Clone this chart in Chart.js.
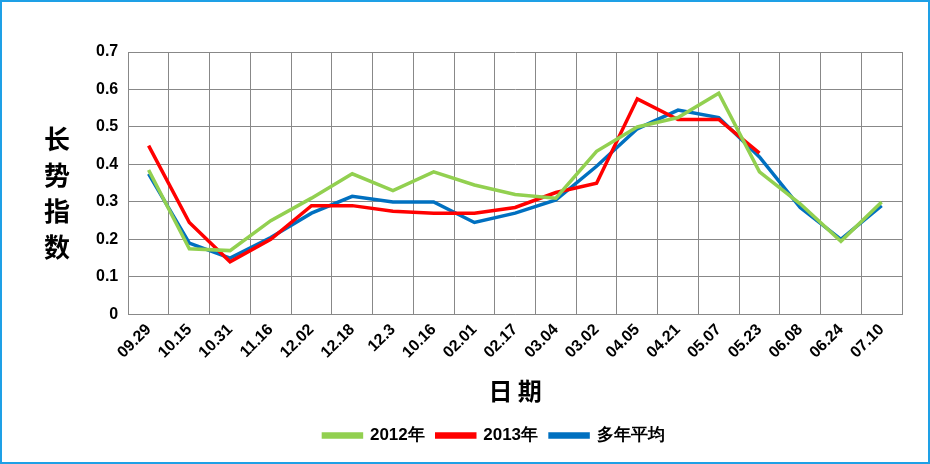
<!DOCTYPE html>
<html><head><meta charset="utf-8">
<script src="https://cdn.jsdelivr.net/npm/chart.js@4/dist/chart.umd.min.js"></script>
<style>
html,body{margin:0;padding:0;background:#fff;}
#wrap{position:relative;width:926px;height:460px;border:2px solid #1EA0E6;}
#ytitle{position:absolute;left:40px;top:118px;font:bold 26px "Noto Sans CJK SC";line-height:36px;width:30px;text-align:center;color:#000;}
</style></head><body>
<div id="wrap"><canvas id="c" width="926" height="460"></canvas>
<div id="ytitle">长<br>势<br>指<br>数</div></div>
<script>
const categories=["09.29","10.15","10.31","11.16","12.02","12.18","12.3","10.16","02.01","02.17","03.04","03.02","04.05","04.21","05.07","05.23","06.08","06.24","07.10"];
const s2012=[0.385,0.175,0.17,0.25,0.31,0.375,0.33,0.38,0.345,0.32,0.31,0.435,0.5,0.525,0.59,0.38,0.295,0.195,0.3];
const s2013=[0.45,0.245,0.14,0.2,0.29,0.29,0.275,0.27,0.27,0.285,0.325,0.35,0.575,0.52,0.52,0.43,null,null,null];
const sAvg=[0.375,0.19,0.15,0.205,0.27,0.315,0.3,0.3,0.245,0.27,0.305,0.395,0.495,0.545,0.525,0.42,0.285,0.2,0.29];
const font="Liberation Sans";
new Chart(document.getElementById('c'),{type:'line',
data:{labels:categories,datasets:[
{label:'2012年',data:s2012,borderColor:'#92D050',backgroundColor:'#92D050',borderWidth:3.5,pointRadius:0,tension:0},
{label:'2013年',data:s2013,borderColor:'#FF0000',backgroundColor:'#FF0000',borderWidth:3.5,pointRadius:0,tension:0},
{label:'多年平均',data:sAvg,borderColor:'#0070C0',backgroundColor:'#0070C0',borderWidth:3.5,pointRadius:0,tension:0}]},
options:{responsive:false,animation:false,
layout:{padding:{left:84,right:26,top:50,bottom:8}},
plugins:{legend:{position:'bottom',labels:{boxWidth:38,boxHeight:3,color:'#000',font:{family:font,size:17,weight:'bold'},padding:12}},tooltip:{enabled:false}},
scales:{
x:{offset:true,grid:{offset:true,color:'#888',drawTicks:false},border:{color:'#888'},ticks:{color:'#000',maxRotation:45,minRotation:45,padding:6,font:{family:font,size:16,weight:'bold'}},
 title:{display:true,text:'日 期',color:'#000',font:{family:'Noto Sans CJK SC',size:24,weight:'bold'},padding:{top:8,bottom:10}}},
y:{min:0,max:0.7,grid:{color:'#888',drawTicks:false},border:{color:'#888'},ticks:{stepSize:0.1,color:'#000',padding:10,font:{family:font,size:16,weight:'bold'},callback:v=>v===0?'0':v.toFixed(1)}}
}}});
</script></body></html>
